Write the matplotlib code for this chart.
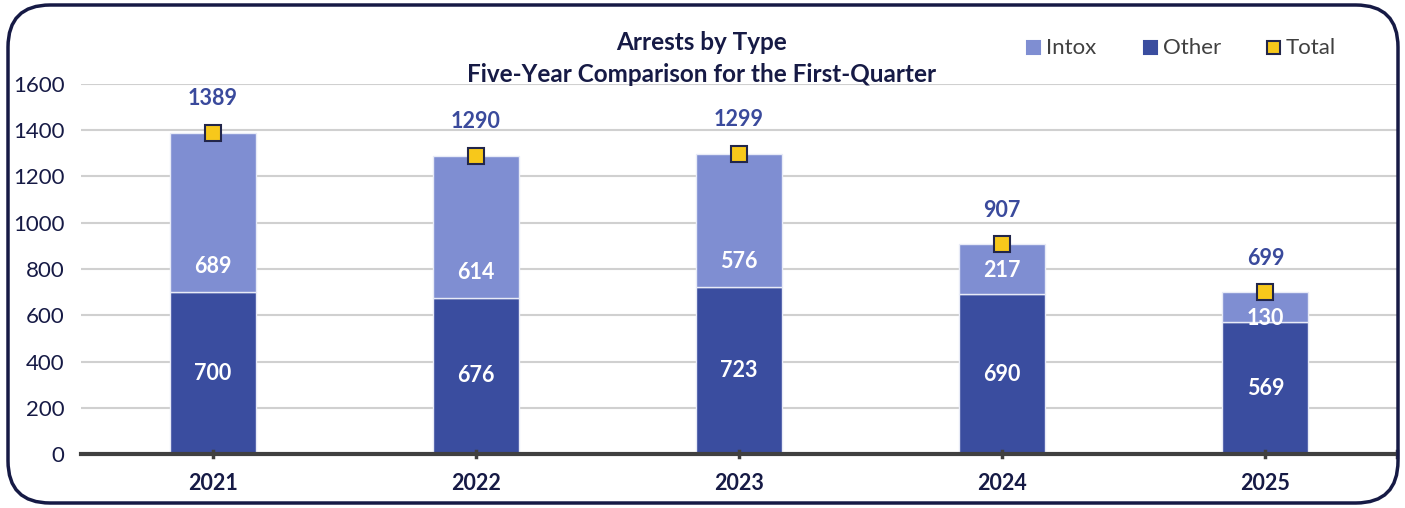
import matplotlib
matplotlib.use("Agg")
import matplotlib.pyplot as plt
from matplotlib.patches import FancyBboxPatch, Rectangle

years = ["2021", "2022", "2023", "2024", "2025"]
other = [700, 676, 723, 690, 569]
intox = [689, 614, 576, 217, 130]
total = [1389, 1290, 1299, 907, 699]
yticks = [0, 200, 400, 600, 800, 1000, 1200, 1400, 1600]

plt.rcParams['font.family'] = ['Lato', 'DejaVu Sans']

C_INTOX = "#7F8ED2"
C_OTHER = "#3A4D9F"
C_GOLD = "#F7C81B"
C_NAVY = "#161A45"
C_LABEL = "#3A4A9C"

fig = plt.figure(figsize=(14.05, 5.08), dpi=100)
ax = fig.add_axes([81/1405, 1-454/508, (1397-81)/1405, (454-84)/508])

x = list(range(len(years)))
w = 0.327
ax.bar(x, other, width=w, color=C_OTHER, edgecolor="#E8EBF7", linewidth=1, zorder=3)
ax.bar(x, intox, bottom=other, width=w, color=C_INTOX, edgecolor="#E8EBF7", linewidth=1, zorder=3)
ax.plot(x, total, linestyle="none", marker="s", markersize=12, markerfacecolor=C_GOLD,
        markeredgecolor="#22264a", markeredgewidth=1.5, zorder=5)

for i in x:
    ax.text(i, other[i]/2, str(other[i]), ha="center", va="center", color="white",
            fontsize=15.5, fontweight="bold", zorder=6)
    # Excel "inside base" label placement for the Intox segment
    off = min(110, intox[i] - 115)
    ax.text(i, other[i] + off, str(intox[i]), ha="center", va="center", color="white",
            fontsize=15.5, fontweight="bold", zorder=6)
    ax.text(i, total[i] + 148, str(total[i]), ha="center", va="center", color=C_LABEL,
            fontsize=15.5, fontweight="bold", zorder=6)

ax.set_xlim(-0.5, 4.5)
ax.set_ylim(0, 1600)
ax.set_yticks(yticks)
ax.set_yticklabels([str(v) for v in yticks], fontsize=16, color=C_NAVY)
ax.set_xticks(x)
ax.set_xticklabels(years, fontsize=15.5, fontweight="bold", color=C_NAVY)
ax.tick_params(axis="y", length=0, pad=12)
ax.tick_params(axis="x", length=0, pad=14)
ax.grid(axis="y", color="#D0D0D0", linewidth=1.5, zorder=0)
ax.set_axisbelow(True)
for s in ["top", "right", "left"]:
    ax.spines[s].set_visible(False)
ax.spines["bottom"].set_color("#404040")
ax.spines["bottom"].set_linewidth(3)
ax.spines["bottom"].set_zorder(4)
for xi in x + [4.5]:
    ax.plot([xi, xi], [-12, 12], color="#404040", linewidth=2.5, clip_on=False, zorder=4)

fig.text(702/1405, 1-42/508, "Arrests by Type", ha="center", va="center",
         fontsize=17.5, fontweight="bold", color=C_NAVY)
fig.text(702/1405, 1-74/508, "Five-Year Comparison for the First-Quarter", ha="center", va="center",
         fontsize=17.5, fontweight="bold", color=C_NAVY)

leg_items = [("Intox", C_INTOX, None, 1033), ("Other", C_OTHER, None, 1150), ("Total", C_GOLD, "#22264a", 1273)]
for label, col, ec, px in leg_items:
    fig.patches.append(Rectangle((px/1405 - 6/1405, 1-54/508), 13/1405, 13/508,
                                 transform=fig.transFigure, facecolor=col,
                                 edgecolor=ec if ec else col, linewidth=1.5))
    fig.text((px + 13)/1405, 1-48/508, label, ha="left", va="center", fontsize=16, color="#404040")

fig.patches.append(FancyBboxPatch((8/1405, 5/508), 1390/1405, 498/508,
                                  boxstyle="round,pad=0,rounding_size=0.03",
                                  transform=fig.transFigure, facecolor="none",
                                  edgecolor=C_NAVY, linewidth=2.5, mutation_aspect=1405/508))

fig.savefig("out.png", dpi=100)
